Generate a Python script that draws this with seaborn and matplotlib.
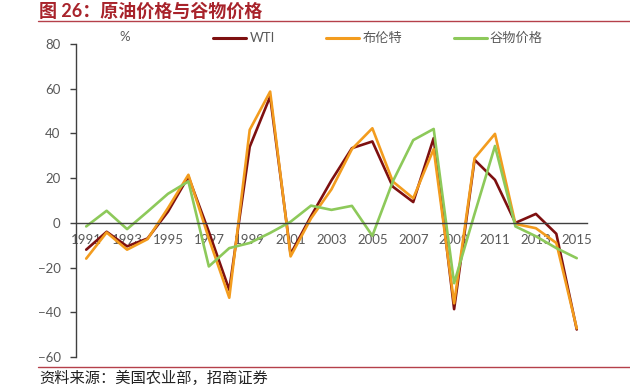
import numpy as np
import pandas as pd
import seaborn as sns
import matplotlib.pyplot as plt
from matplotlib.lines import Line2D

# -------------------------------
# Data (annual % change)
# -------------------------------
years = list(range(1991, 2016))
wti = [-12, -4, -10.5, -7, 5, 20.7, -4, -30, 34, 56.5, -14, 3, 19, 33.4, 36.4,
       16.2, 9.3, 37.9, -38.6, 28.2, 19.2, 0, 4, -4.9, -47.7]
brent = [-16, -4.3, -12, -7.3, 6.6, 21.5, -7, -33.5, 41.6, 58.7, -15, 2, 15, 33, 42.3,
         18.5, 11, 33, -36, 28.9, 39.8, -0.5, -2.4, -9, -47.2]
grain = [-1.6, 5.4, -2.8, 5, 13, 18.5, -19.5, -11.3, -9, -4.5, 0.5, 7.7, 5.8, 7.6, -5.8,
         18.5, 37, 42, -27, 4, 34.4, -1.6, -6, -11.3, -15.8]
series_names = ["WTI", "布伦特", "谷物价格"]
series_colors = ["#7E1010", "#F39C1E", "#8DC95A"]

df = pd.DataFrame({
    "pos": list(range(len(years))) * 3,
    "value": wti + brent + grain,
    "series": [s for s in series_names for _ in years],
})

# -------------------------------
# Style
# -------------------------------
sns.set_style("white")
plt.rcParams["font.family"] = ["Lato", "Noto Sans CJK SC", "DejaVu Sans"]
grey = "#595959"

fig = plt.figure(figsize=(6.3, 3.92), dpi=100)
ax = fig.add_axes([0.1206, 0.0893, 0.8111, 0.7985])

sns.lineplot(data=df, x="pos", y="value", hue="series", hue_order=series_names,
             palette=series_colors, linewidth=1.9, ax=ax, legend=True)

# axes / ticks
ax.set_xlim(-0.5, len(years) - 0.5)
ax.set_ylim(-60, 80)
ax.set_yticks(np.arange(-60, 81, 20))
ax.set_xticks(range(0, len(years), 2))
ax.set_xticklabels([str(y) for y in years[::2]])
ax.set_xticks(np.arange(1.5, len(years), 2), minor=True)
ax.set_xlabel("")
ax.set_ylabel("")
ax.spines["bottom"].set_position(("data", 0))
for s in ["top", "right"]:
    ax.spines[s].set_visible(False)
for s in ["left", "bottom"]:
    ax.spines[s].set_color("#404040")
    ax.spines[s].set_linewidth(1.0)
ax.tick_params(axis="y", direction="out", length=4, width=1, color="#404040",
               labelsize=9.5, labelcolor=grey, pad=7, left=True)
ax.tick_params(axis="x", which="major", length=0, labelsize=9.5, labelcolor=grey, pad=8)
ax.tick_params(axis="x", which="minor", direction="out", length=3, width=1, color="#404040")

sns.move_legend(ax, "center left", bbox_to_anchor=(0.328, 0.903),
                bbox_transform=fig.transFigure, ncol=3, frameon=False, title=None,
                borderpad=0, handlelength=2.5, handletextpad=0.25, columnspacing=3.9,
                fontsize=9.5, labelcolor=grey)
for line in ax.get_legend().get_lines():
    line.set_linewidth(2.2)

fig.text(0.19, 0.905, "%", fontsize=9.5, color=grey, va="center")

# title and source with rules
fig.text(0.062, 0.972, "图 26：原油价格与谷物价格", fontsize=13, fontweight="bold",
         color="#A8232B", va="center")
fig.add_artist(Line2D([0.06, 1.0], [0.946, 0.946], color="#B5404A", lw=1.0))
fig.add_artist(Line2D([0.06, 1.0], [0.064, 0.064], color="#B5404A", lw=1.0))
fig.text(0.062, 0.035, "资料来源：美国农业部，招商证券", fontsize=11, color="#222222",
         va="center")

fig.savefig("out.png", dpi=100)
